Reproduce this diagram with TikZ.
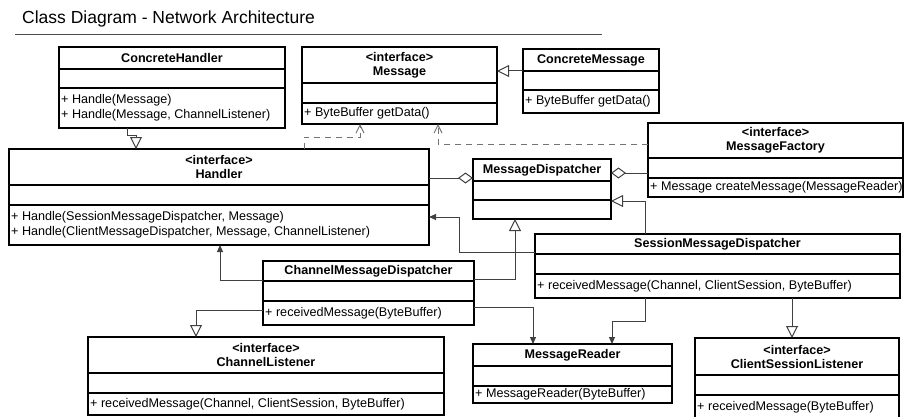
\documentclass[tikz,border=0pt]{standalone}
\usepackage{fontspec}
\setmainfont{Liberation Sans}
\usetikzlibrary{arrows.meta,calc}

% A UML class: name, x, y, width, header depth, attribute depth, total height, title, operations
\newcommand{\UMLClass}[9]{%
  \node[classbox, minimum width=#4pt, minimum height=#7pt, anchor=north west] (#1) at (#2,#3) {};
  \draw[compartment] ([yshift=-#5pt]#1.north west) -- ([yshift=-#5pt]#1.north east);
  \draw[compartment] ([yshift=-#6pt]#1.north west) -- ([yshift=-#6pt]#1.north east);
  \node[headtext] at ([yshift=-#5pt/2]#1.north) {#8};
  \node[membertext] at ([xshift=2pt, yshift=-(#6pt+#7pt)/2]#1.north west) {#9};
}

\tikzset{
  classbox/.style={draw=black, line width=1.6pt, fill=white, inner sep=0pt, outer sep=0pt},
  compartment/.style={draw=black, line width=1.6pt},
  headtext/.style={font=\fontsize{12.6}{14}\selectfont\bfseries, align=center, inner sep=0pt},
  membertext/.style={font=\fontsize{12.6}{15}\selectfont, align=left, inner sep=0pt, anchor=west},
  link/.style={draw=black!75, line width=1pt},
  generalize/.style={link, -{Triangle[open, length=12pt, width=12pt, fill=white]}},
  aggregate/.style={link, {Diamond[open, length=15pt, width=11pt, fill=white]}-},
  assoc/.style={link, -{Triangle[length=7pt, width=6pt]}},
  depend/.style={draw=black!55, line width=1pt, dash pattern=on 6pt off 5pt,
                 -{Straight Barb[length=8pt, width=8pt]}},
}

\begin{document}
\begin{tikzpicture}[x=1pt, y=-1pt]
\useasboundingbox[fill=white] (0,0) rectangle (904,417);

% heading
\node[anchor=base west, inner sep=0pt, font=\fontsize{17.5}{20}\selectfont] (title) at (22,24)
  {Class Diagram - Network Architecture};
\draw[draw=black!70, line width=1pt] (15,35) -- (602,35);

% classes
\UMLClass{chandler}{59}{47}{226}{22}{41}{81}{ConcreteHandler}
  {+ Handle(Message)\\+ Handle(Message, ChannelListener)}
\UMLClass{message}{302}{47}{195}{36}{56}{77}{<interface>\\Message}
  {+ ByteBuffer getData()}
\UMLClass{cmessage}{523}{49}{136}{22}{41}{64}{ConcreteMessage}
  {+ ByteBuffer getData()}
\UMLClass{mfactory}{648}{123}{255}{35}{55}{74}{<interface>\\MessageFactory}
  {+ Message createMessage(MessageReader)}
\UMLClass{handler}{9}{149}{420}{36}{56}{96}{<interface>\\Handler}
  {+ Handle(SessionMessageDispatcher, Message)\\+ Handle(ClientMessageDispatcher, Message, ChannelListener)}
\UMLClass{mdispatcher}{473}{159}{138}{22}{41}{60}{MessageDispatcher}{}
\UMLClass{smd}{535}{234}{365}{20}{40}{64}{SessionMessageDispatcher}
  {+ receivedMessage(Channel, ClientSession, ByteBuffer)}
\UMLClass{cmd}{263}{261}{211}{20}{40}{64}{ChannelMessageDispatcher}
  {+ receivedMessage(ByteBuffer)}
\UMLClass{clistener}{88}{337}{356}{36}{56}{78}{<interface>\\ChannelListener}
  {+ receivedMessage(Channel, ClientSession, ByteBuffer)}
\UMLClass{mreader}{473}{344}{199}{22}{42}{59}{MessageReader}
  {+ MessageReader(ByteBuffer)}
\UMLClass{cslistener}{695}{338}{204}{37}{57}{81}{<interface>\\ClientSessionListener}
  {+ receivedMessage(ByteBuffer)}

% inheritance
\draw[generalize] (chandler.south -| 127,0) -- ++(0,7) -| (handler.north -| 136,0);
\draw[generalize] (cmessage.west |- 0,71) -- (message.east |- 0,71);
\draw[generalize] (smd.north -| 645,0) |- (mdispatcher.east |- 0,201);
\draw[generalize] (cmd.east |- 0,279) -| (mdispatcher.south -| 515,0);
\draw[generalize] (cmd.west |- 0,310) -| (clistener.north -| 196,0);
\draw[generalize] (smd.south -| 792,0) -- (cslistener.north -| 792,0);

% dependencies
\draw[depend] (handler.north -| 304,0) |- (360,137) -- (message.south -| 360,0);
\draw[depend] (mfactory.west |- 0,144) -| (message.south -| 438,0);

% aggregation
\draw[aggregate] (mdispatcher.west |- 0,178) -- (handler.east |- 0,178);
\draw[aggregate] (mdispatcher.east |- 0,173) -- (mfactory.west |- 0,173);

% associations
\draw[assoc] (smd.west |- 0,252) -- (459,252) |- (handler.east |- 0,217);
\draw[assoc] (cmd.west |- 0,280) -| (handler.south -| 220,0);
\draw[assoc] (cmd.east |- 0,307) -| (mreader.north -| 533,0);
\draw[assoc] (smd.south -| 645,0) -- (645,321) -| (mreader.north -| 612,0);
\end{tikzpicture}
\end{document}
